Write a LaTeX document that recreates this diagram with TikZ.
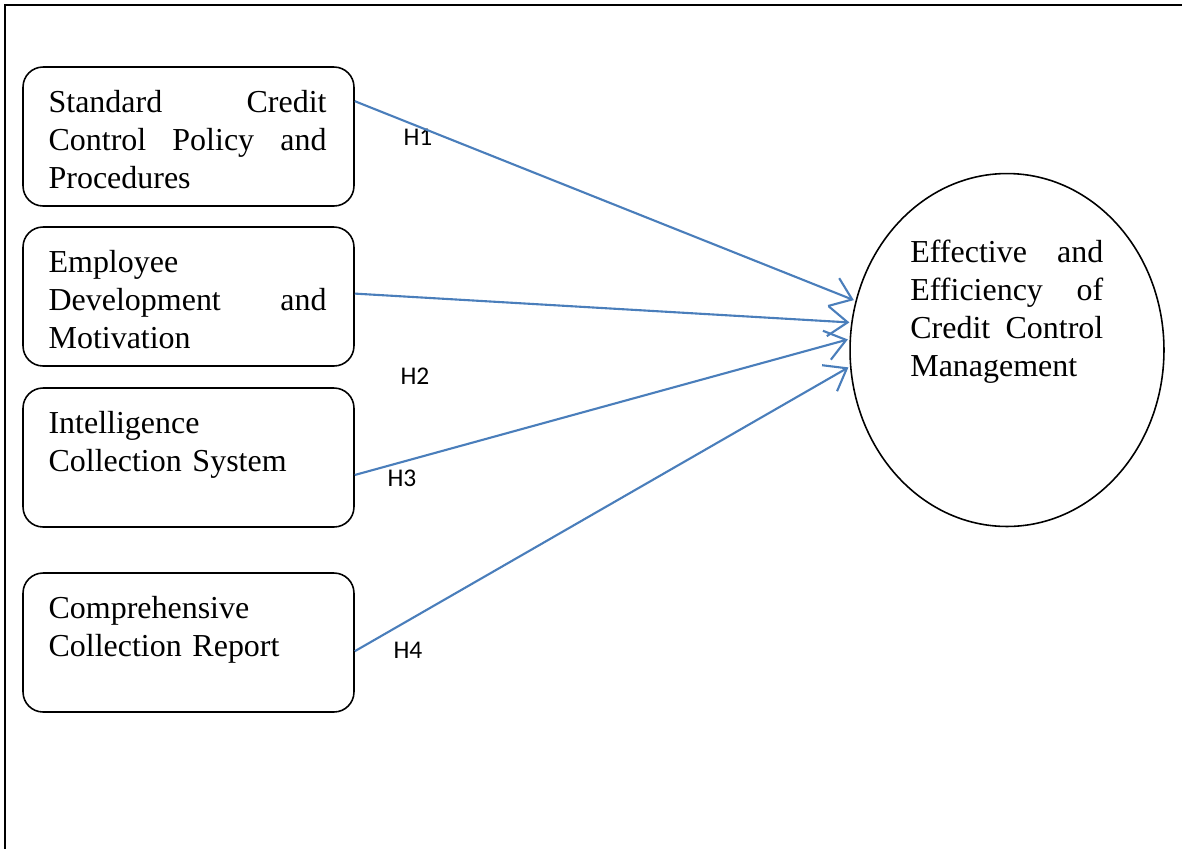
\documentclass[tikz,border=0pt]{standalone}
\usepackage{fontspec}
\setmainfont{Liberation Serif}
\newfontfamily\hfont{Carlito}
\usetikzlibrary{positioning}
\usetikzlibrary{shapes.geometric}
\usetikzlibrary{arrows.meta}
\definecolor{linkblue}{RGB}{74,126,187}
\tikzset{
	factor/.style={draw, rectangle, rounded corners=0.4cm, line width=0.9pt, minimum width=6.62cm, minimum height=2.78cm},
	outcome/.style={draw, ellipse, inner sep=0pt, line width=0.9pt, minimum width=6.28cm, minimum height=7.06cm},
	boxtext/.style={anchor=north west, inner sep=0pt, text width=5.56cm, align=left, font=\fontsize{18.2}{21.6}\selectfont},
	hyp/.style={inner sep=0pt, font=\hfont\fontsize{14.5}{16}\selectfont},
}

\begin{document}
\begin{tikzpicture}[x=0.02cm, y=-0.02cm]
		\useasboundingbox (0,0) rectangle (1182,849);
		\draw[line width=1.1pt] (1182,5) -- (5,5) -- (5,849);
		
		\node (b1) [factor] at (188.5,136.5) {};
		\node (b2) [factor] at (188.5,296.5) {};
		\node (b3) [factor] at (188.5,457.5) {};
		\node (b4) [factor] at (188.5,642.5) {};
		\node (ccm) [outcome] at (1007,350) {};
		
		\node (t1) [boxtext, below right=0.47cm and 0.52cm of b1.north west] {Standard \hfill Credit\\ Control \hfill Policy \hfill and\\ Procedures};
		\node (t2) [boxtext, below right=0.47cm and 0.52cm of b2.north west] {Employee\\ Development \hfill and\\ Motivation};
		\node (t3) [boxtext, below right=0.47cm and 0.52cm of b3.north west] {Intelligence\\ Collection System};
		\node (t4) [boxtext, below right=0.47cm and 0.52cm of b4.north west] {Comprehensive\\ Collection Report};
		\node (t5) [boxtext, text width=3.86cm] at (910,240) {Effective \hfill and\\ Efficiency \hfill of\\ Credit \hfill Control\\ Management};
		
		\node (h1) [hyp] at (418,137) {H1};
		\node (h2) [hyp] at (415,376) {H2};
		\node (h3) [hyp] at (402,478) {H3};
		\node (h4) [hyp] at (408,650) {H4};
		
		\begin{scope}[linkblue, line width=1.2pt, shorten >=1pt, -{Straight Barb[length=0.4cm, width=0.6cm]}]
			\draw (b1.12) -- (ccm.162);
			\draw (b2.1) -- (ccm.170);
			\draw (b3.-6) -- (ccm.176);
			\draw (b4.-3) -- (ccm.186);
		\end{scope}
	\end{tikzpicture}
\end{document}
